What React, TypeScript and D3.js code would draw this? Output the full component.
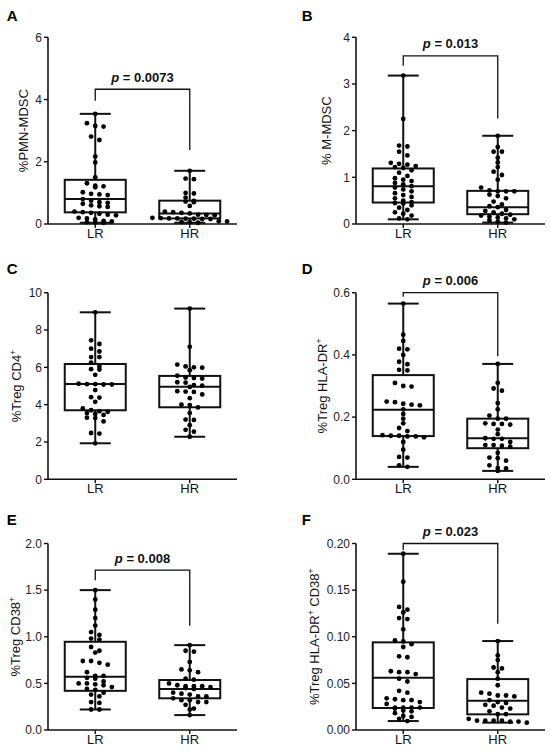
import React from 'react';
import * as d3 from 'd3';

const groups = ['LR', 'HR'];

// A: %PMN-MDSC
const pmnLR = [3.54, 3.24, 3.15, 3.13, 2.81, 2.7, 2.17, 1.98, 1.5, 1.31, 1.23, 1.21, 1.18, 1.02, 0.97, 0.95, 0.93, 0.8, 0.75, 0.7, 0.68, 0.65, 0.6, 0.57, 0.55, 0.4, 0.38, 0.36, 0.33, 0.3, 0.28, 0.2, 0.18, 0.15, 0.1, 0.08, 0.06, 0.05, 0.04];
const pmnHR = [1.71, 1.46, 1.44, 1.0, 0.98, 0.85, 0.74, 0.72, 0.7, 0.58, 0.4, 0.38, 0.36, 0.34, 0.3, 0.29, 0.28, 0.2, 0.19, 0.18, 0.18, 0.17, 0.17, 0.16, 0.16, 0.09, 0.08, 0.07, 0.06, 0.04];
const pmnBoxLR = [0.04, 0.375, 0.8, 1.42, 3.54];
const pmnBoxHR = [0.04, 0.18, 0.34, 0.75, 1.71];
const pmnBracket = [4.33, 3.96, 2.38];

// B: % M-MDSC
const mLR = [3.18, 2.25, 1.68, 1.66, 1.55, 1.47, 1.31, 1.29, 1.27, 1.24, 1.22, 1.2, 1.15, 1.1, 1.03, 0.98, 0.95, 0.92, 0.88, 0.85, 0.81, 0.78, 0.74, 0.7, 0.66, 0.62, 0.58, 0.55, 0.5, 0.47, 0.45, 0.44, 0.4, 0.35, 0.3, 0.25, 0.22, 0.18, 0.12, 0.1];
const mHR = [1.89, 1.65, 1.55, 1.55, 1.42, 1.32, 1.22, 1.12, 1.05, 0.95, 0.78, 0.72, 0.7, 0.7, 0.7, 0.63, 0.6, 0.55, 0.48, 0.42, 0.38, 0.36, 0.3, 0.28, 0.25, 0.22, 0.2, 0.18, 0.16, 0.14, 0.12, 0.1, 0.08, 0.05, 0.03];
const mBoxLR = [0.1, 0.46, 0.81, 1.19, 3.18];
const mBoxHR = [0.03, 0.21, 0.36, 0.71, 1.89];
const mBracket = [3.6, 3.39, 2.26];

// C: %Treg CD4+
const cd4LR = [8.95, 7.45, 7.25, 7.0, 6.85, 6.55, 6.55, 6.25, 6.05, 5.9, 5.88, 5.6, 5.12, 5.1, 5.1, 5.08, 5.08, 4.78, 4.4, 4.38, 4.15, 3.8, 3.7, 3.65, 3.62, 3.55, 3.5, 3.45, 3.3, 3.28, 3.1, 2.48, 2.45, 1.93];
const cd4HR = [9.15, 7.1, 6.15, 6.05, 6.0, 5.98, 5.85, 5.55, 5.45, 5.43, 5.4, 5.2, 5.18, 5.05, 5.02, 4.95, 4.72, 4.7, 4.68, 4.55, 4.35, 4.0, 3.98, 3.85, 3.55, 3.2, 3.18, 2.9, 2.65, 2.55, 2.28];
const cd4BoxLR = [1.93, 3.7, 5.11, 6.18, 8.95];
const cd4BoxHR = [2.28, 3.86, 4.96, 5.54, 9.15];

// D: %Treg HLA-DR+
const drLR = [0.565, 0.465, 0.445, 0.42, 0.418, 0.4, 0.378, 0.37, 0.352, 0.35, 0.31, 0.3, 0.298, 0.25, 0.248, 0.243, 0.24, 0.238, 0.225, 0.21, 0.195, 0.18, 0.165, 0.155, 0.142, 0.14, 0.14, 0.138, 0.138, 0.135, 0.12, 0.095, 0.072, 0.07, 0.045, 0.04];
const drHR = [0.371, 0.31, 0.292, 0.285, 0.245, 0.225, 0.205, 0.195, 0.195, 0.18, 0.178, 0.178, 0.176, 0.16, 0.145, 0.132, 0.13, 0.13, 0.12, 0.11, 0.11, 0.108, 0.105, 0.085, 0.07, 0.068, 0.06, 0.045, 0.036, 0.035, 0.027];
const drBoxLR = [0.04, 0.139, 0.224, 0.335, 0.565];
const drBoxHR = [0.027, 0.1, 0.132, 0.195, 0.371];
const drBracket = [0.6, 0.587, 0.396];

// E: %Treg CD38+
const cd38LR = [1.5, 1.4, 1.29, 1.2, 1.12, 1.05, 1.02, 0.98, 0.97, 0.89, 0.85, 0.83, 0.74, 0.74, 0.72, 0.7, 0.62, 0.58, 0.58, 0.56, 0.55, 0.52, 0.5, 0.5, 0.49, 0.48, 0.46, 0.44, 0.43, 0.4, 0.38, 0.36, 0.3, 0.29, 0.22, 0.22];
const cd38HR = [0.91, 0.85, 0.84, 0.73, 0.65, 0.64, 0.62, 0.55, 0.54, 0.5, 0.48, 0.47, 0.47, 0.47, 0.46, 0.45, 0.44, 0.4, 0.39, 0.38, 0.36, 0.36, 0.34, 0.32, 0.32, 0.3, 0.3, 0.27, 0.23, 0.22, 0.16];
const cd38BoxLR = [0.22, 0.42, 0.571, 0.946, 1.5];
const cd38BoxHR = [0.16, 0.34, 0.44, 0.536, 0.91];
const cd38Bracket = [1.715, 1.607, 1.118];

// F: %Treg HLA-DR+ CD38+
const dr38LR = [0.189, 0.159, 0.132, 0.129, 0.126, 0.12, 0.119, 0.108, 0.096, 0.095, 0.092, 0.089, 0.079, 0.078, 0.063, 0.062, 0.062, 0.06, 0.055, 0.052, 0.042, 0.04, 0.034, 0.033, 0.032, 0.032, 0.03, 0.028, 0.024, 0.024, 0.024, 0.024, 0.023, 0.021, 0.02, 0.018, 0.015, 0.014, 0.012, 0.0096];
const dr38HR = [0.0954, 0.08, 0.075, 0.067, 0.066, 0.062, 0.055, 0.048, 0.04, 0.039, 0.037, 0.037, 0.036, 0.032, 0.03, 0.029, 0.027, 0.026, 0.024, 0.023, 0.02, 0.017, 0.017, 0.012, 0.01, 0.01, 0.01, 0.01, 0.009, 0.009, 0.0079];
const dr38BoxLR = [0.0096, 0.0236, 0.056, 0.094, 0.189];
const dr38BoxHR = [0.0079, 0.0168, 0.0314, 0.0546, 0.0954];
const dr38Bracket = [0.2, 0.193, 0.114];

const FONT = "'Liberation Sans', Arial, Helvetica, sans-serif";

type Seg = { t: string; sup?: boolean };
type Panel = {
  letter: string;
  label: Seg[];
  yMax: number;
  ticks: number[];
  fmt: string;
  data: number[][];
  boxes: number[][];
  p?: string;
  bracket?: number[];
  col: number;
  row: number;
  labelX: number;
};

const panels: Panel[] = [
  { letter: 'A', label: [{ t: '%PMN-MDSC' }], yMax: 6, ticks: [0, 2, 4, 6], fmt: 'd', data: [pmnLR, pmnHR], boxes: [pmnBoxLR, pmnBoxHR], p: '0.0073', bracket: pmnBracket, col: 0, row: 0, labelX: 27.5 },
  { letter: 'B', label: [{ t: '% M-MDSC' }], yMax: 4, ticks: [0, 1, 2, 3, 4], fmt: 'd', data: [mLR, mHR], boxes: [mBoxLR, mBoxHR], p: '0.013', bracket: mBracket, col: 1, row: 0, labelX: 331 },
  { letter: 'C', label: [{ t: '%Treg CD4' }, { t: '+', sup: true }], yMax: 10, ticks: [0, 2, 4, 6, 8, 10], fmt: 'd', data: [cd4LR, cd4HR], boxes: [cd4BoxLR, cd4BoxHR], col: 0, row: 1, labelX: 20.7 },
  { letter: 'D', label: [{ t: '%Treg HLA-DR' }, { t: '+', sup: true }], yMax: 0.6, ticks: [0, 0.2, 0.4, 0.6], fmt: '.1f', data: [drLR, drHR], boxes: [drBoxLR, drBoxHR], p: '0.006', bracket: drBracket, col: 1, row: 1, labelX: 326.5 },
  { letter: 'E', label: [{ t: '%Treg CD38' }, { t: '+', sup: true }], yMax: 2, ticks: [0, 0.5, 1, 1.5, 2], fmt: '.1f', data: [cd38LR, cd38HR], boxes: [cd38BoxLR, cd38BoxHR], p: '0.008', bracket: cd38Bracket, col: 0, row: 2, labelX: 19.5 },
  { letter: 'F', label: [{ t: '%Treg HLA-DR' }, { t: '+', sup: true }, { t: ' CD38' }, { t: '+', sup: true }], yMax: 0.2, ticks: [0, 0.05, 0.1, 0.15, 0.2], fmt: '.2f', data: [dr38LR, dr38HR], boxes: [dr38BoxLR, dr38BoxHR], p: '0.023', bracket: dr38Bracket, col: 1, row: 2, labelX: 318.5 },
];

const COL_X = [48, 356];
const PLOT_W = 189;
const ROWS = [[37.3, 224], [292.7, 479.3], [543.5, 730]];
const LETTER_Y = [20.7, 274, 524.5];
const LETTER_X = [6.7, 301.7];

const R = 2.4;
const SPACING = 8.3;
const ROW_GAP = 4;

function swarm(values: number[], y: (v: number) => number, cx: number) {
  const sorted = values.map((v) => y(v)).sort((a, b) => a - b);
  const out: { x: number; y: number }[] = [];
  let row: number[] = [];
  let start: number | null = null;
  const flush = () => {
    const n = row.length;
    row.forEach((py, i) => out.push({ x: cx + (i - (n - 1) / 2) * SPACING, y: py }));
    row = [];
  };
  for (const py of sorted) {
    if (start === null || py - start > ROW_GAP) {
      flush();
      start = py;
    }
    row.push(py);
  }
  flush();
  return out;
}

function PanelView({ pn }: { pn: Panel }) {
  const x0 = COL_X[pn.col];
  const [top, bottom] = ROWS[pn.row];
  const y = d3.scaleLinear().domain([0, pn.yMax]).range([bottom, top]);
  const x = d3.scalePoint<string>().domain(groups).range([x0, x0 + PLOT_W]).padding(0.5);
  const fmt = d3.format(pn.fmt);
  const boxW = 61;
  const capW = 31;
  const mid = (top + bottom) / 2;
  return (
    <g>
      <text x={LETTER_X[pn.col]} y={LETTER_Y[pn.row]} fontSize={15} fontWeight="bold" fontFamily={FONT}>
        {pn.letter}
      </text>
      <text
        transform={`translate(${pn.labelX},${mid}) rotate(-90)`}
        textAnchor="middle"
        fontSize={13}
        fontFamily={FONT}
        fill="#111"
      >
        {pn.label.map((s, i) =>
          s.sup ? (
            <tspan key={i} dy={-5} fontSize={8.5}>{s.t}</tspan>
          ) : (
            <tspan key={i} dy={i > 0 && pn.label[i - 1].sup ? 5 : 0}>{s.t}</tspan>
          )
        )}
      </text>
      <line x1={x0} x2={x0} y1={top} y2={bottom} stroke="#111" strokeWidth={1.6} />
      <line x1={x0} x2={x0 + PLOT_W} y1={bottom} y2={bottom} stroke="#111" strokeWidth={1.6} />
      {pn.ticks.map((t) => (
        <g key={t}>
          <line x1={x0 - 4} x2={x0} y1={y(t)} y2={y(t)} stroke="#111" strokeWidth={1.4} />
          <text x={x0 - 6} y={y(t)} dy="0.35em" textAnchor="end" fontSize={12} fontFamily={FONT} fill="#222">
            {fmt(t)}
          </text>
        </g>
      ))}
      {groups.map((g) => (
        <g key={g}>
          <line x1={x(g)!} x2={x(g)!} y1={bottom} y2={bottom + 4} stroke="#111" strokeWidth={1.4} />
          <text x={x(g)!} y={bottom + 13.5} textAnchor="middle" fontSize={13} fontFamily={FONT} fill="#111">
            {g}
          </text>
        </g>
      ))}
      {groups.map((g, gi) => {
        const [mn, q1, md, q3, mx] = pn.boxes[gi];
        const cx = x(g)!;
        return (
          <g key={g} stroke="#111" strokeWidth={2} fill="none">
            <line x1={cx} x2={cx} y1={y(mx)} y2={y(q3)} />
            <line x1={cx} x2={cx} y1={y(q1)} y2={y(mn)} />
            <line x1={cx - capW / 2} x2={cx + capW / 2} y1={y(mx)} y2={y(mx)} />
            <line x1={cx - capW / 2} x2={cx + capW / 2} y1={y(mn)} y2={y(mn)} />
            <rect x={cx - boxW / 2} y={y(q3)} width={boxW} height={y(q1) - y(q3)} />
            <line x1={cx - boxW / 2} x2={cx + boxW / 2} y1={y(md)} y2={y(md)} />
          </g>
        );
      })}
      {groups.map((g, gi) =>
        swarm(pn.data[gi], y, x(g)!).map((p, i) => (
          <circle key={g + i} cx={p.x} cy={p.y} r={R} fill="#000" />
        ))
      )}
      {pn.bracket && (
        <g>
          <path
            d={`M${x('LR')},${y(pn.bracket[1])}V${y(pn.bracket[0])}H${x('HR')}V${y(pn.bracket[2])}`}
            fill="none"
            stroke="#111"
            strokeWidth={1.3}
          />
          <text
            x={(x('LR')! + x('HR')!) / 2}
            y={y(pn.bracket[0]) - 7.5}
            textAnchor="middle"
            fontSize={13}
            fontWeight="bold"
            fontFamily={FONT}
            fill="#111"
          >
            <tspan fontStyle="italic">p</tspan>
            <tspan>{` = ${pn.p}`}</tspan>
          </text>
        </g>
      )}
    </g>
  );
}

export default function App() {
  return (
    <svg
      width={550}
      height={755}
      viewBox="0 0 550 755"
      style={{ position: 'absolute', left: 0, top: 0, background: '#fff' }}
    >
      <rect width={550} height={755} fill="#fff" />
      {panels.map((pn) => (
        <PanelView key={pn.letter} pn={pn} />
      ))}
    </svg>
  );
}
